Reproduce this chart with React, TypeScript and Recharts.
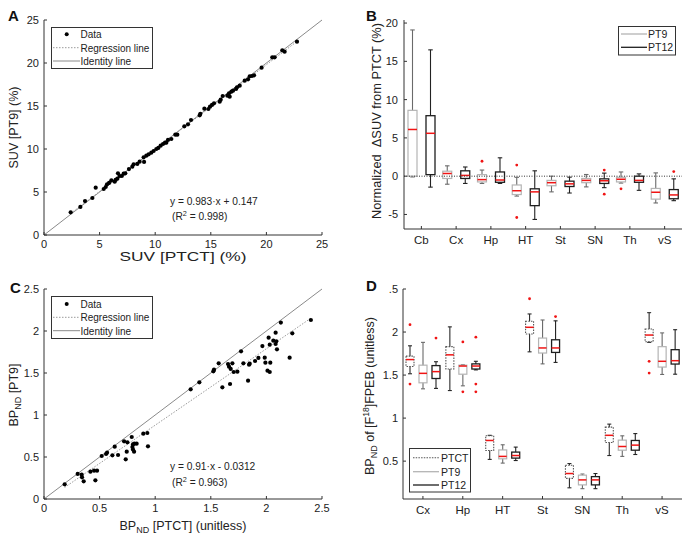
import React from 'react';
import { ScatterChart, Scatter, ComposedChart, Bar, XAxis, YAxis, ReferenceLine } from 'recharts';

const FONT = '"Liberation Sans", Arial, Helvetica, sans-serif';

// ---------- Panel A: SUV PTCT vs PT9 ----------
const aPtct = [2.4, 3.27, 3.69, 4.35, 4.65, 5.37, 5.55, 5.67, 5.85, 6.06, 6.36, 6.44, 6.6, 6.65, 6.8, 7.0, 7.16, 7.31, 7.64, 7.94, 8.06, 8.39, 8.6, 9.0, 8.96, 9.2, 9.41, 9.65, 9.86, 10.1, 10.28, 10.49, 10.7, 10.88, 11.0, 11.15, 11.45, 11.81, 11.99, 12.62, 12.95, 13.22, 14.0, 14.06, 14.42, 14.78, 14.93, 15.11, 15.29, 15.8, 15.89, 16.07, 16.49, 16.64, 16.7, 16.85, 17.0, 17.27, 17.36, 17.6, 18.05, 18.35, 18.5, 18.7, 18.89, 19.57, 20.53, 20.74, 21.43, 21.64, 22.75];
const aPt9 = [2.64, 3.26, 3.95, 4.3, 5.5, 5.35, 5.58, 5.89, 6.05, 6.36, 6.2, 6.4, 6.55, 7.17, 6.86, 6.86, 7.13, 7.17, 7.67, 7.95, 8.22, 8.26, 8.53, 8.5, 9.03, 9.22, 9.38, 9.57, 9.77, 10.0, 10.12, 10.39, 10.58, 10.74, 10.74, 11.05, 11.16, 11.67, 11.67, 12.64, 12.87, 13.37, 13.91, 14.1, 14.69, 14.65, 14.92, 15.12, 15.31, 15.5, 15.74, 16.16, 16.2, 16.47, 16.08, 16.67, 16.78, 16.98, 17.17, 17.36, 17.95, 18.1, 18.45, 18.49, 18.57, 19.46, 20.66, 20.66, 21.47, 21.32, 22.48];
const aSlope = 0.983;
const aIntercept = 0.147;
const aTicks = [0, 5, 10, 15, 20, 25];

// ---------- Panel C: BPND PTCT vs PT9 ----------
const cPtct = [0.186, 0.303, 0.339, 0.342, 0.357, 0.417, 0.45, 0.462, 0.477, 0.519, 0.558, 0.567, 0.615, 0.636, 0.666, 0.72, 0.735, 0.744, 0.75, 0.789, 0.795, 0.8, 0.8, 0.81, 0.812, 0.833, 0.893, 0.929, 0.935, 1.319, 1.397, 1.523, 1.529, 1.571, 1.604, 1.655, 1.664, 1.673, 1.679, 1.694, 1.706, 1.739, 1.772, 1.793, 1.835, 1.844, 1.85, 1.898, 1.928, 1.964, 1.985, 1.991, 2.01, 2.02, 2.03, 2.03, 2.035, 2.062, 2.083, 2.083, 2.089, 2.095, 2.13, 2.233, 2.209, 2.4];
const cPt9 = [0.175, 0.298, 0.29, 0.258, 0.21, 0.325, 0.337, 0.222, 0.337, 0.512, 0.536, 0.552, 0.52, 0.623, 0.524, 0.687, 0.472, 0.563, 0.675, 0.738, 0.619, 0.65, 0.59, 0.563, 0.659, 0.659, 0.778, 0.786, 0.627, 1.306, 1.389, 1.52, 1.54, 1.615, 1.329, 1.607, 1.575, 1.369, 1.548, 1.615, 1.512, 1.516, 1.758, 1.615, 1.409, 1.599, 1.611, 1.643, 1.679, 1.821, 1.683, 1.623, 1.528, 1.921, 1.837, 1.512, 1.623, 1.885, 1.98, 1.845, 1.877, 1.782, 2.1, 1.972, 1.683, 2.131];
const cSlope = 0.91;
const cIntercept = -0.0312;
const cTicks = [0, 0.5, 1, 1.5, 2, 2.5];

// ---------- Panel B: normalized dSUV (whisker low, q1, median, q3, whisker high) ----------
const bRegions = ['Cb', 'Cx', 'Hp', 'HT', 'St', 'SN', 'Th', 'vS'];
const bPT9 = [
  [-0.1, 0.0, 6.1, 8.6, 19.1],
  [-1.05, -0.3, 0.35, 0.65, 1.35],
  [-0.95, -0.75, -0.45, 0.2, 0.8],
  [-2.6, -2.4, -1.9, -1.15, -0.15],
  [-2.05, -1.25, -0.85, -0.55, 0.0],
  [-1.4, -0.85, -0.55, -0.3, 0.22],
  [-0.9, -0.75, -0.4, -0.15, 0.55],
  [-3.5, -3.0, -2.1, -1.6, 0.43],
];
const bPT9Outliers = [[], [], [1.95], [1.45, -5.4], [], [], [-1.65], []];
const bPT12 = [
  [-1.43, 0.2, 5.6, 7.9, 16.5],
  [-0.95, -0.3, 0.1, 0.7, 1.2],
  [-0.95, -0.8, -0.5, 0.55, 2.4],
  [-5.65, -3.85, -2.05, -1.65, 0.7],
  [-2.2, -1.35, -1.0, -0.65, -0.13],
  [-1.5, -0.95, -0.6, -0.35, 0.4],
  [-1.85, -0.8, -0.55, 0.0, 0.3],
  [-3.2, -2.95, -2.45, -1.75, -0.35],
];
const bPT12Outliers = [[], [], [], [], [], [0.8, -2.35], [], [0.6]];
const bTicks = [-5, 0, 5, 10, 15, 20];

// ---------- Panel D: BPND per region ----------
const dRegions = ['Cx', 'Hp', 'HT', 'St', 'SN', 'Th', 'vS'];
const dPTCT = [
  [1.515, 1.6, 1.68, 1.72, 1.84],
  [1.32, 1.57, 1.735, 1.83, 2.06],
  [0.52, 0.623, 0.74, 0.795, 0.8],
  [1.77, 1.977, 2.055, 2.125, 2.21],
  [0.19, 0.3, 0.356, 0.453, 0.472],
  [0.565, 0.716, 0.8, 0.895, 0.93],
  [1.88, 1.887, 1.965, 2.035, 2.225],
];
const dPTCTOutliers = [[2.085, 1.395], [], [], [2.387], [], [], [1.66, 1.523]];
const dPT9 = [
  [1.34, 1.41, 1.52, 1.615, 1.88],
  [1.375, 1.51, 1.605, 1.615, 1.62],
  [0.477, 0.527, 0.555, 0.63, 0.69],
  [1.63, 1.756, 1.815, 1.93, 2.14],
  [0.18, 0.224, 0.282, 0.337, 0.35],
  [0.555, 0.627, 0.67, 0.744, 0.794],
  [1.507, 1.593, 1.66, 1.83, 1.99],
];
const dPT9Outliers = [[], [1.885, 1.305], [], [], [], [], []];
const dPT12 = [
  [1.345, 1.46, 1.54, 1.61, 1.655],
  [1.56, 1.57, 1.605, 1.63, 1.66],
  [0.507, 0.535, 0.565, 0.605, 0.663],
  [1.647, 1.763, 1.815, 1.91, 2.13],
  [0.18, 0.224, 0.282, 0.32, 0.356],
  [0.577, 0.627, 0.686, 0.74, 0.82],
  [1.51, 1.628, 1.667, 1.795, 2.027],
];
const dPT12Outliers = [[1.93], [1.94, 1.395, 1.305], [], [2.18], [], [], []];
const dTicks = [0.5, 1, 1.5, 2, 2.5];

// ---------- helpers ----------
type Stat = { s: number[]; o: number[] };
const rangeOf = (st: Stat): [number, number] => [Math.min(st.s[0], ...st.o), Math.max(st.s[4], ...st.o)];

const bRows = bRegions.map((r, i) => ({
  region: r,
  pt9: { s: bPT9[i], o: bPT9Outliers[i] },
  pt12: { s: bPT12[i], o: bPT12Outliers[i] },
}));
const dRows = dRegions.map((r, i) => ({
  region: r,
  ptct: { s: dPTCT[i], o: dPTCTOutliers[i] },
  pt9: { s: dPT9[i], o: dPT9Outliers[i] },
  pt12: { s: dPT12[i], o: dPT12Outliers[i] },
}));

const tickStyle = { fill: '#222', fontSize: 11, fontFamily: FONT };
const AX = '#333';

type BoxStyle = { box: string; whisker: string; width: number; dash?: string };

const makeBoxShape = (key: string, st: BoxStyle) => (props: any) => {
  const { x, y, width, height, payload } = props;
  const stat: Stat = payload[key];
  const [lo, hi] = rangeOf(stat);
  const top = Math.min(y, y + height);
  const bot = Math.max(y, y + height);
  const px = (v: number) => (hi === lo ? top : top + ((hi - v) / (hi - lo)) * (bot - top));
  const [wl, q1, med, q3, wh] = stat.s;
  const cx = x + width / 2;
  const cap = width / 4;
  return (
    <g>
      <line x1={cx} x2={cx} y1={px(wh)} y2={px(q3)} stroke={st.whisker} strokeWidth={1.1} />
      <line x1={cx} x2={cx} y1={px(q1)} y2={px(wl)} stroke={st.whisker} strokeWidth={1.1} />
      <line x1={cx - cap} x2={cx + cap} y1={px(wh)} y2={px(wh)} stroke={st.whisker} strokeWidth={1.1} />
      <line x1={cx - cap} x2={cx + cap} y1={px(wl)} y2={px(wl)} stroke={st.whisker} strokeWidth={1.1} />
      <rect x={x} y={px(q3)} width={width} height={Math.max(0.5, px(q1) - px(q3))} fill="none" stroke={st.box} strokeWidth={st.width} strokeDasharray={st.dash} />
      <line x1={x} x2={x + width} y1={px(med)} y2={px(med)} stroke="#f01414" strokeWidth={1.5} />
      {stat.o.map((v, i) => (
        <circle key={i} cx={cx} cy={px(v)} r={1.4} fill="#f01414" />
      ))}
    </g>
  );
};

const ptctStyle: BoxStyle = { box: '#555', whisker: '#2a2a2a', width: 1.1, dash: '1.5 1.2' };
const pt9Style: BoxStyle = { box: '#b4b4b4', whisker: '#6a6a6a', width: 1.2 };
const pt12Style: BoxStyle = { box: '#1e1e1e', whisker: '#222', width: 1.3 };

const dot = (p: any) => <circle cx={p.cx} cy={p.cy} r={2.1} fill="#000" />;

function ScatterPanel(props: {
  xs: number[]; ys: number[]; slope: number; intercept: number; ticks: number[];
  height: number; top: number; xAxisH: number;
}) {
  const { xs, ys, slope, intercept, ticks, height, top, xAxisH } = props;
  const pts = xs.map((x, i) => ({ x, y: ys[i] }));
  const dom: [number, number] = [ticks[0], ticks[ticks.length - 1]];
  const xMin = Math.min(...xs);
  const xMax = Math.max(...xs);
  return (
    <ScatterChart width={350} height={height} margin={{ top, right: 28, left: 0, bottom: 0 }}>
      <XAxis dataKey="x" type="number" domain={dom} ticks={ticks} allowDataOverflow interval={0} height={xAxisH} tickSize={-3} tickMargin={8} stroke={AX} tick={tickStyle} />
      <XAxis xAxisId="top" orientation="top" dataKey="x" type="number" domain={dom} ticks={ticks} allowDataOverflow interval={0} height={0} tickSize={-3} tickFormatter={() => ''} stroke={AX} />
      <YAxis dataKey="y" type="number" domain={dom} ticks={ticks} allowDataOverflow interval={0} width={44} tickSize={-3} tickMargin={8} stroke={AX} tick={tickStyle} />
      <YAxis yAxisId="right" orientation="right" dataKey="y" type="number" domain={dom} ticks={ticks} allowDataOverflow interval={0} width={0} tickSize={-3} tickFormatter={() => ''} stroke={AX} />
      <ReferenceLine segment={[{ x: dom[0], y: dom[0] }, { x: dom[1], y: dom[1] }]} stroke="#8a8a8a" strokeWidth={1} />
      <ReferenceLine segment={[{ x: xMin, y: slope * xMin + intercept }, { x: xMax, y: slope * xMax + intercept }]} stroke="#9a9a9a" strokeDasharray="1.5 1.5" strokeWidth={1} />
      <Scatter data={pts} isAnimationActive={false} shape={dot} />
    </ScatterChart>
  );
}

const txt = { fontFamily: FONT, fill: '#222' } as const;

export default function App() {
  return (
    <div style={{ position: 'absolute', left: 0, top: 0, width: 700, height: 539, background: '#fff', overflow: 'hidden' }}>
      {/* Panel A */}
      <div style={{ position: 'absolute', left: 0, top: 0 }}>
        <ScatterPanel xs={aPtct} ys={aPt9} slope={aSlope} intercept={aIntercept} ticks={aTicks} height={270} top={20} xAxisH={35} />
      </div>
      {/* Panel C */}
      <div style={{ position: 'absolute', left: 0, top: 270 }}>
        <ScatterPanel xs={cPtct} ys={cPt9} slope={cSlope} intercept={cIntercept} ticks={cTicks} height={269} top={19} xAxisH={40} />
      </div>
      {/* Panel B */}
      <div style={{ position: 'absolute', left: 350, top: 0 }}>
        <ComposedChart width={350} height={270} data={bRows} margin={{ top: 20, right: 18, left: 0, bottom: 0 }} barGap={9} barCategoryGap={0}>
          <XAxis dataKey="region" interval={0} height={41} tickSize={-3} tickMargin={10} stroke={AX} tick={{ ...tickStyle, fontSize: 11.5 }} />
          <XAxis xAxisId="top" orientation="top" dataKey="region" interval={0} height={0} tickSize={-3} tickFormatter={() => ''} stroke={AX} />
          <YAxis type="number" domain={[-6.9, 20.4]} ticks={bTicks} allowDataOverflow interval={0} width={54} tickSize={-3} tickMargin={9} stroke={AX} tick={tickStyle} />
          <YAxis yAxisId="right" orientation="right" type="number" domain={[-6.9, 20.4]} ticks={bTicks} allowDataOverflow interval={0} width={0} tickSize={-3} tickFormatter={() => ''} stroke={AX} />
          <ReferenceLine y={0} stroke="#333" strokeDasharray="1 1.5" strokeWidth={1} />
          <Bar dataKey={(r: any) => rangeOf(r.pt9)} barSize={9} shape={makeBoxShape('pt9', pt9Style)} isAnimationActive={false} />
          <Bar dataKey={(r: any) => rangeOf(r.pt12)} barSize={9} shape={makeBoxShape('pt12', pt12Style)} isAnimationActive={false} />
        </ComposedChart>
      </div>
      {/* Panel D */}
      <div style={{ position: 'absolute', left: 350, top: 270 }}>
        <ComposedChart width={350} height={269} data={dRows} margin={{ top: 19, right: 18, left: 0, bottom: 0 }} barGap={5} barCategoryGap={0}>
          <XAxis dataKey="region" interval={0} height={40} tickSize={-3} tickMargin={10} stroke={AX} tick={{ ...tickStyle, fontSize: 11.5 }} />
          <XAxis xAxisId="top" orientation="top" dataKey="region" interval={0} height={0} tickSize={-3} tickFormatter={() => ''} stroke={AX} />
          <YAxis type="number" domain={[0.06, 2.5]} ticks={dTicks} allowDataOverflow interval={0} width={53} tickSize={-3} tickMargin={8} stroke={AX} tick={tickStyle} />
          <YAxis yAxisId="right" orientation="right" type="number" domain={[0.06, 2.5]} ticks={dTicks} allowDataOverflow interval={0} width={0} tickSize={-3} tickFormatter={() => ''} stroke={AX} />
          <Bar dataKey={(r: any) => rangeOf(r.ptct)} barSize={8} shape={makeBoxShape('ptct', ptctStyle)} isAnimationActive={false} />
          <Bar dataKey={(r: any) => rangeOf(r.pt9)} barSize={8} shape={makeBoxShape('pt9', pt9Style)} isAnimationActive={false} />
          <Bar dataKey={(r: any) => rangeOf(r.pt12)} barSize={8} shape={makeBoxShape('pt12', pt12Style)} isAnimationActive={false} />
        </ComposedChart>
      </div>

      {/* Annotations */}
      <svg width={700} height={539} style={{ position: 'absolute', left: 0, top: 0, pointerEvents: 'none' }}>
        {/* panel letters */}
        <text x={8} y={21} fontSize={15} fontWeight="bold" {...txt} fill="#111">A</text>
        <text x={366} y={21} fontSize={15} fontWeight="bold" {...txt} fill="#111">B</text>
        <text x={10} y={293} fontSize={15} fontWeight="bold" {...txt} fill="#111">C</text>
        <rect x={363} y={279} width={26} height={17} fill="#fff" />
        <text x={366} y={291} fontSize={15} fontWeight="bold" {...txt} fill="#111">D</text>

        {/* A axis labels */}
        <text x={183} y={260.5} fontSize={13.5} textAnchor="middle" textLength={127} lengthAdjust="spacingAndGlyphs" {...txt}>SUV [PTCT] (%)</text>
        <text transform="translate(17.5,127.5) rotate(-90)" fontSize={12.5} textAnchor="middle" {...txt}>SUV [PT9] (%)</text>
        <text x={170} y={204.5} fontSize={10.2} {...txt}>y = 0.983·x + 0.147</text>
        <text x={172} y={219.5} fontSize={10.2} {...txt}>(R<tspan fontSize={7.3} dy={-4}>2</tspan><tspan dy={4}> = 0.998)</tspan></text>

        {/* A legend */}
        <rect x={51.5} y={27.5} width={101} height={41} fill="#fff" stroke="#333" strokeWidth={1} />
        <circle cx={66.7} cy={34.3} r={2} fill="#000" />
        <text x={80.5} y={38} fontSize={10} {...txt}>Data</text>
        <line x1={53} x2={80} y1={47.7} y2={47.7} stroke="#9a9a9a" strokeDasharray="1.5 1.5" />
        <text x={80.5} y={51.5} fontSize={10} {...txt}>Regression line</text>
        <line x1={53} x2={80} y1={61} y2={61} stroke="#8a8a8a" />
        <text x={80.5} y={64.8} fontSize={10} {...txt}>Identity line</text>

        {/* C axis labels */}
        <text x={183} y={529.5} fontSize={12.5} textAnchor="middle" {...txt}>BP<tspan fontSize={9} dy={3}>ND</tspan><tspan dy={-3}> [PTCT] (unitless)</tspan></text>
        <text transform="translate(17.5,395) rotate(-90)" fontSize={12.5} textAnchor="middle" {...txt}>BP<tspan fontSize={9} dy={3}>ND</tspan><tspan dy={-3}> [PT9]</tspan></text>
        <text x={170} y={469.5} fontSize={10.2} {...txt}>y = 0.91·x - 0.0312</text>
        <text x={172} y={485.5} fontSize={10.2} {...txt}>(R<tspan fontSize={7.3} dy={-4}>2</tspan><tspan dy={4}> = 0.963)</tspan></text>

        {/* C legend */}
        <rect x={51.5} y={296.5} width={101} height={42} fill="#fff" stroke="#333" strokeWidth={1} />
        <circle cx={66.7} cy={304} r={2} fill="#000" />
        <text x={80.5} y={307.8} fontSize={10} {...txt}>Data</text>
        <line x1={53} x2={80} y1={317.3} y2={317.3} stroke="#9a9a9a" strokeDasharray="1.5 1.5" />
        <text x={80.5} y={321.1} fontSize={10} {...txt}>Regression line</text>
        <line x1={53} x2={80} y1={330.7} y2={330.7} stroke="#8a8a8a" />
        <text x={80.5} y={334.5} fontSize={10} {...txt}>Identity line</text>

        {/* B axis label */}
        <text transform="translate(380.5,121) rotate(-90)" fontSize={12.8} textAnchor="middle" {...txt} xmlSpace="preserve">Normalized  ΔSUV from PTCT (%)</text>
        {/* B legend */}
        <rect x={618.5} y={26.5} width={57} height={28.5} fill="#fff" stroke="#333" strokeWidth={1} />
        <line x1={621} x2={647} y1={34} y2={34} stroke="#b4b4b4" strokeWidth={1.3} />
        <text x={648} y={37.8} fontSize={10.5} {...txt}>PT9</text>
        <line x1={621} x2={647} y1={47.3} y2={47.3} stroke="#1e1e1e" strokeWidth={1.3} />
        <text x={648} y={51.1} fontSize={10.5} {...txt}>PT12</text>

        {/* D axis label */}
        <text transform="translate(373.5,396) rotate(-90)" fontSize={12.5} textAnchor="middle" {...txt}>BP<tspan fontSize={9} dy={3}>ND</tspan><tspan dy={-3}> of [F</tspan><tspan fontSize={8.5} dy={-4.5}>18</tspan><tspan dy={4.5}>]FPEB (unitless)</tspan></text>
        {/* D legend */}
        <rect x={409.5} y={448.5} width={61} height={43.5} fill="#fff" stroke="#333" strokeWidth={1} />
        <line x1={413} x2={439} y1={457.7} y2={457.7} stroke="#555" strokeWidth={1.1} strokeDasharray="1.5 1.2" />
        <text x={441} y={461.5} fontSize={10.5} {...txt}>PTCT</text>
        <line x1={413} x2={439} y1={471.7} y2={471.7} stroke="#b4b4b4" strokeWidth={1.3} />
        <text x={441} y={475.5} fontSize={10.5} {...txt}>PT9</text>
        <line x1={413} x2={439} y1={485} y2={485} stroke="#1e1e1e" strokeWidth={1.3} />
        <text x={441} y={488.8} fontSize={10.5} {...txt}>PT12</text>
      </svg>
    </div>
  );
}
